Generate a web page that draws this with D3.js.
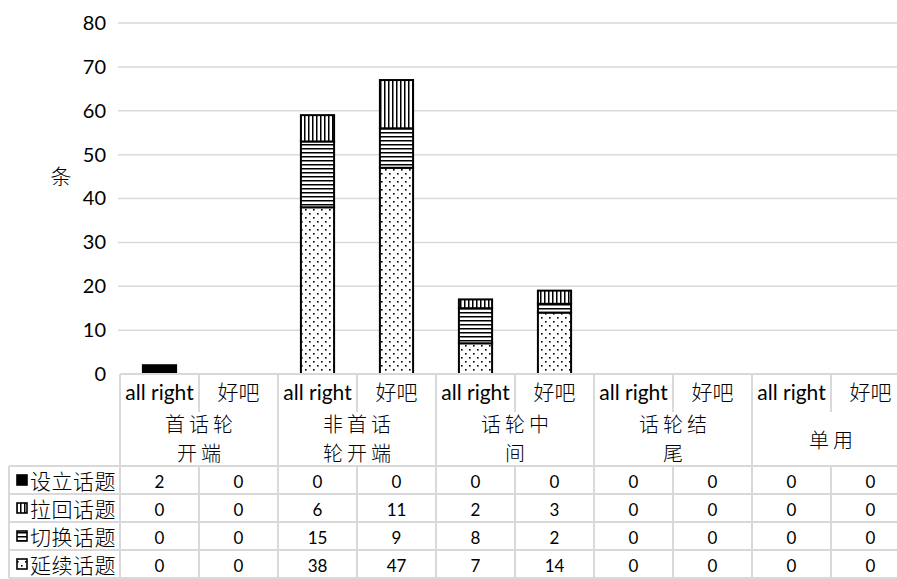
<!DOCTYPE html>
<html>
<head>
<meta charset="utf-8">
<script src="https://cdn.jsdelivr.net/npm/d3@7"></script>
<style>
  body { margin: 0; background: #fff; }
  svg { display: block; }
  .lat { font-family: Lato, "Open Sans", "Liberation Sans", sans-serif; }
  .cjk { font-family: "Noto Sans CJK SC", "Noto Sans", sans-serif; font-weight: 300; }
</style>
</head>
<body>
<svg id="chart" width="897" height="579"></svg>
<script>
// Categories: two-level axis (sub-label per column, group label per pair)
const subLabels = ["all right", "好吧", "all right", "好吧", "all right", "好吧", "all right", "好吧", "all right", "好吧"];
const groupLabels = [["首话轮", "开端"], ["非首话", "轮开端"], ["话轮中", "间"], ["话轮结", "尾"], ["单用"]];

// Series, in table order (top row first)
const seriesNames = ["设立话题", "拉回话题", "切换话题", "延续话题"];
const setUpTopic    = [2, 0, 0, 0, 0, 0, 0, 0, 0, 0];
const pullBackTopic = [0, 0, 6, 11, 2, 3, 0, 0, 0, 0];
const switchTopic   = [0, 0, 15, 9, 8, 2, 0, 0, 0, 0];
const continueTopic = [0, 0, 38, 47, 7, 14, 0, 0, 0, 0];

const yTicks = [0, 10, 20, 30, 40, 50, 60, 70, 80];
const yTitle = "条";

const seriesValues = [setUpTopic, pullBackTopic, switchTopic, continueTopic];
const patternIds = ["p-solid", "p-vert", "p-horiz", "p-dots"];

const svg = d3.select("#chart");
const gridColor = "#d9d9d9";

// Scales
const x = d3.scaleBand().domain(d3.range(subLabels.length)).range([120, 910]).padding(0);
const y = d3.scaleLinear().domain([0, 80]).range([374, 23]);

// Fill patterns
const defs = svg.append("defs");
defs.append("pattern").attr("id", "p-solid").attr("patternUnits", "userSpaceOnUse")
  .attr("width", 4).attr("height", 4)
  .append("rect").attr("width", 4).attr("height", 4).attr("fill", "#000");

const pv = defs.append("pattern").attr("id", "p-vert").attr("patternUnits", "userSpaceOnUse")
  .attr("width", 4).attr("height", 4);
pv.append("rect").attr("width", 4).attr("height", 4).attr("fill", "#fff");
pv.append("rect").attr("x", 0).attr("width", 1.5).attr("height", 4).attr("fill", "#000");

const ph = defs.append("pattern").attr("id", "p-horiz").attr("patternUnits", "userSpaceOnUse")
  .attr("width", 4).attr("height", 4);
ph.append("rect").attr("width", 4).attr("height", 4).attr("fill", "#fff");
ph.append("rect").attr("y", 0).attr("width", 4).attr("height", 1.5).attr("fill", "#000");

const pd = defs.append("pattern").attr("id", "p-dots").attr("patternUnits", "userSpaceOnUse")
  .attr("width", 8).attr("height", 8);
pd.append("rect").attr("width", 8).attr("height", 8).attr("fill", "#fff");
pd.append("rect").attr("x", 1).attr("y", 1).attr("width", 1.6).attr("height", 1.6).attr("fill", "#000");
pd.append("rect").attr("x", 5).attr("y", 5).attr("width", 1.6).attr("height", 1.6).attr("fill", "#000");

// Gridlines
svg.append("g").selectAll("line").data(yTicks.filter(d => d > 0)).join("line")
  .attr("x1", 118).attr("x2", 910)
  .attr("y1", d => y(d)).attr("y2", d => y(d))
  .attr("stroke", gridColor).attr("stroke-width", 1.5);

// Y axis labels
const yAxis = svg.append("g").attr("transform", "translate(120,0)")
  .call(d3.axisLeft(y).tickValues(yTicks).tickSize(0).tickPadding(14));
yAxis.select(".domain").remove();
yAxis.selectAll("text").attr("class", "lat").attr("font-size", 20).attr("fill", "#000");

svg.append("text").attr("class", "cjk").attr("x", 61).attr("y", 175)
  .attr("text-anchor", "middle").attr("dominant-baseline", "central")
  .attr("font-size", 21).attr("fill", "#000").text(yTitle);

// Stacked bars, bottom to top: 延续, 切换, 拉回, 设立
const rows = subLabels.map((_, i) => {
  const r = { i };
  seriesNames.forEach((s, k) => r[s] = seriesValues[k][i]);
  return r;
});
const stackKeys = seriesNames.slice().reverse();
const stacked = d3.stack().keys(stackKeys)(rows);
const barW = x.bandwidth() * 0.42;

svg.append("g").selectAll("g").data(stacked).join("g")
  .attr("fill", d => `url(#${patternIds[seriesNames.indexOf(d.key)]})`)
  .selectAll("rect").data(d => d.filter(p => p[1] - p[0] > 0)).join("rect")
  .attr("x", d => x(d.data.i) + (x.bandwidth() - barW) / 2)
  .attr("width", barW)
  .attr("y", d => y(d[1]))
  .attr("height", d => y(d[0]) - y(d[1]))
  .attr("stroke", "#000").attr("stroke-width", 2);

// Data table
const tableTop = 374, subRowBottom = 412, headBottom = 466, rowH = 28, tableLeft = 9, plotLeft = 120, tableRight = 910;
const nRows = seriesNames.length;
const tbl = svg.append("g").attr("stroke", gridColor).attr("stroke-width", 2);

tbl.append("line").attr("x1", plotLeft).attr("x2", tableRight).attr("y1", tableTop).attr("y2", tableTop);
for (let r = 0; r <= nRows; r++) {
  const yy = headBottom + r * rowH;
  tbl.append("line").attr("x1", tableLeft).attr("x2", tableRight).attr("y1", yy).attr("y2", yy);
}
tbl.append("line").attr("x1", tableLeft).attr("x2", tableLeft)
  .attr("y1", headBottom).attr("y2", headBottom + nRows * rowH);
d3.range(subLabels.length + 1).forEach(i => {
  const xx = i < subLabels.length ? x(i) : tableRight;
  if (i % 2 === 0) {
    tbl.append("line").attr("x1", xx).attr("x2", xx).attr("y1", tableTop).attr("y2", headBottom + nRows * rowH);
  } else {
    tbl.append("line").attr("x1", xx).attr("x2", xx).attr("y1", tableTop).attr("y2", subRowBottom);
    tbl.append("line").attr("x1", xx).attr("x2", xx).attr("y1", headBottom).attr("y2", headBottom + nRows * rowH);
  }
});

// Sub-category labels
svg.append("g").selectAll("text").data(subLabels).join("text")
  .attr("class", d => /^[a-z]/.test(d) ? "lat" : "cjk")
  .attr("x", (d, i) => x(i) + x.bandwidth() / 2)
  .attr("y", 391)
  .attr("text-anchor", "middle").attr("dominant-baseline", "central")
  .attr("font-size", 21)
  .attr("fill", "#000").text(d => d);

// Group labels, one text per line
const glLines = [];
groupLabels.forEach((lines, g) => {
  const ys = lines.length === 2 ? [423, 452] : [439];
  lines.forEach((ln, j) => glLines.push({ g, ln, y: ys[j] }));
});
svg.append("g").selectAll("text").data(glLines).join("text")
  .attr("class", "cjk")
  .attr("x", d => x(d.g * 2) + x.bandwidth() + 2)
  .attr("y", d => d.y)
  .attr("text-anchor", "middle").attr("dominant-baseline", "central")
  .attr("font-size", 20).attr("letter-spacing", 4).attr("fill", "#000")
  .text(d => d.ln);

// Row headers with legend keys
const rh = svg.append("g");
seriesNames.forEach((s, k) => {
  const cy = headBottom + k * rowH + rowH / 2;
  rh.append("rect").attr("x", 17).attr("y", cy - 5).attr("width", 10).attr("height", 10)
    .attr("fill", `url(#${patternIds[k]})`).attr("stroke", "#000").attr("stroke-width", 1.6);
  rh.append("text").attr("class", "cjk").attr("x", 30).attr("y", cy)
    .attr("dominant-baseline", "central").attr("font-size", 21).attr("letter-spacing", 0.5)
    .attr("fill", "#000").text(s);
});

// Cell values
seriesValues.forEach((vals, k) => {
  const cy = headBottom + k * rowH + rowH / 2;
  svg.append("g").selectAll("text").data(vals).join("text")
    .attr("class", "lat")
    .attr("x", (d, i) => x(i) + x.bandwidth() / 2)
    .attr("y", cy + 1)
    .attr("text-anchor", "middle").attr("dominant-baseline", "central")
    .attr("font-size", 17).attr("fill", "#000").text(d => d);
});
</script>
</body>
</html>
